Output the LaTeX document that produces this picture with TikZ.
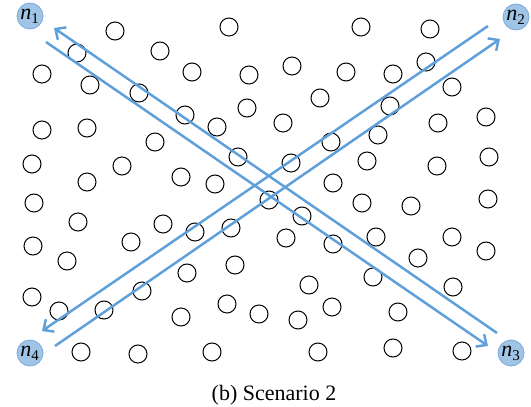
\documentclass[tikz,border=0pt]{standalone}
\usepackage{fontspec}
\setmainfont{Liberation Serif}
\usetikzlibrary{arrows.meta}
\definecolor{flowblue}{RGB}{96,160,218}
\definecolor{nodefill}{RGB}{160,196,230}
\definecolor{nodeedge}{RGB}{120,170,220}
\tikzset{
  sensor/.style={circle,draw=black,line width=1pt,minimum size=18pt,inner sep=0pt},
  endnode/.style={circle,draw=nodeedge,fill=nodefill,line width=0.8pt,minimum size=26pt,inner sep=0pt,font=\fontsize{22}{22}\selectfont},
  flow/.style={draw=flowblue,line width=2.5pt,-{Straight Barb[length=8pt,width=15pt,line width=2.5pt]}}
}
\newcommand{\nlab}[1]{\hspace*{-1pt}\textit{n}\raisebox{-0.4ex}{\fontsize{15}{15}\selectfont #1}}
\begin{document}
\begin{tikzpicture}[x=1pt,y=-1pt]
\useasboundingbox (0,0) rectangle (531,407);
\foreach [count=\i] \p/\q in {115/31,229/27,77/53,160/51,42/74,192/72,249/75,90/85,139/93,185/115,
  247/108,217/127,42/130,87/128,155/142,32/164,122/166,238/157,181/177,87/182,
  215/184,361/27,430/29,292/66,346/72,393/74,426/62,452/87,320/98,390/106,
  283/123,438/123,486/117,331/142,378/135,291/163,367/161,437/166,489/157,333/183,
  34/203,78/222,163/224,195/232,231/228,269/200,33/246,131/242,67/261,235/265,
  187/273,32/297,142/291,59/311,104/310,181/317,227/304,259/314,81/352,138/354,
  212/352,362/203,411/206,488/199,302/216,286/238,333/244,376/237,452/237,418/258,
  486/251,309/285,373/277,453/287,298/320,332/307,398/312,318/352,393/348,462/351}
  \node[sensor] (c\i) at (\p,\q) {};
\node[endnode] (n1) at (30,16) {\nlab{1}};
\node[endnode] (n2) at (516,17) {\nlab{2}};
\node[endnode] (n3) at (511,353) {\nlab{3}};
\node[endnode] (n4) at (30,353) {\nlab{4}};
\coordinate (a0) at (497,333); \coordinate (a1) at (54,28);
\coordinate (b0) at (46,42);   \coordinate (b1) at (488,346);
\coordinate (c0) at (55,346);  \coordinate (cc1) at (500,39);
\coordinate (d0) at (488,26);  \coordinate (d1) at (42,331);
\draw[flow] (a0) -- (a1);
\draw[flow] (b0) -- (b1);
\draw[flow] (c0) -- (cc1);
\draw[flow] (d0) -- (d1);
\node[font=\fontsize{22}{22}\selectfont] (cap) at (274,395) {(b) Scenario 2};
\end{tikzpicture}
\end{document}
